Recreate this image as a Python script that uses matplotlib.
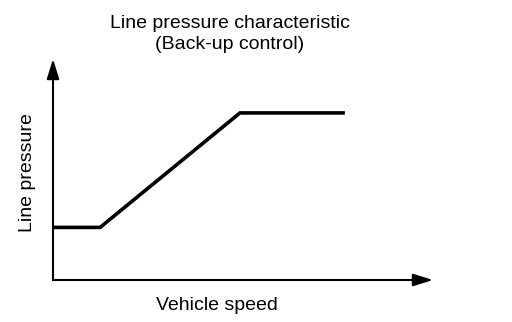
import matplotlib.pyplot as plt

# -------------------------
# Data (arbitrary units, schematic chart)
# -------------------------
vehicle_speed = [0.0, 12.4, 49.2, 76.8]
line_pressure = [23.8, 23.8, 75.6, 75.6]

TITLE = "Line pressure characteristic\n(Back-up control)"
X_LABEL = "Vehicle speed"
Y_LABEL = "Line pressure"

W, H = 512, 322

plt.rcParams["font.family"] = ["Liberation Sans", "DejaVu Sans"]

fig = plt.figure(figsize=(W / 100, H / 100), dpi=100)
fig.patch.set_facecolor("white")

# axes box in pixel terms: x 53..433, y 59..280 (from top)
ax = fig.add_axes([53 / W, (H - 280) / H, 380 / W, 221 / H])
ax.set_xlim(0, 100)
ax.set_ylim(0, 100)
ax.axis("off")

ax.plot(vehicle_speed, line_pressure, color="black", lw=2.6,
        solid_capstyle="butt", solid_joinstyle="miter")

arrow = dict(arrowstyle="-|>,head_length=0.8,head_width=0.25",
             color="black", lw=1.5, mutation_scale=15,
             shrinkA=0, shrinkB=0)
ax.annotate("", xy=(1, 0), xytext=(0, 0), xycoords="axes fraction",
            arrowprops=arrow, annotation_clip=False)
ax.annotate("", xy=(0, 1), xytext=(0, 0), xycoords="axes fraction",
            arrowprops=arrow, annotation_clip=False)

fig.text(230 / W, 1 - 34 / H, TITLE, ha="center", va="center",
         fontsize=14, linespacing=1.3)
fig.text(217 / W, 1 - 305 / H, X_LABEL, ha="center", va="center", fontsize=14)
fig.text(27 / W, 1 - 173 / H, Y_LABEL, ha="center", va="center",
         fontsize=14, rotation=90)

fig.savefig("out.png", dpi=100)
